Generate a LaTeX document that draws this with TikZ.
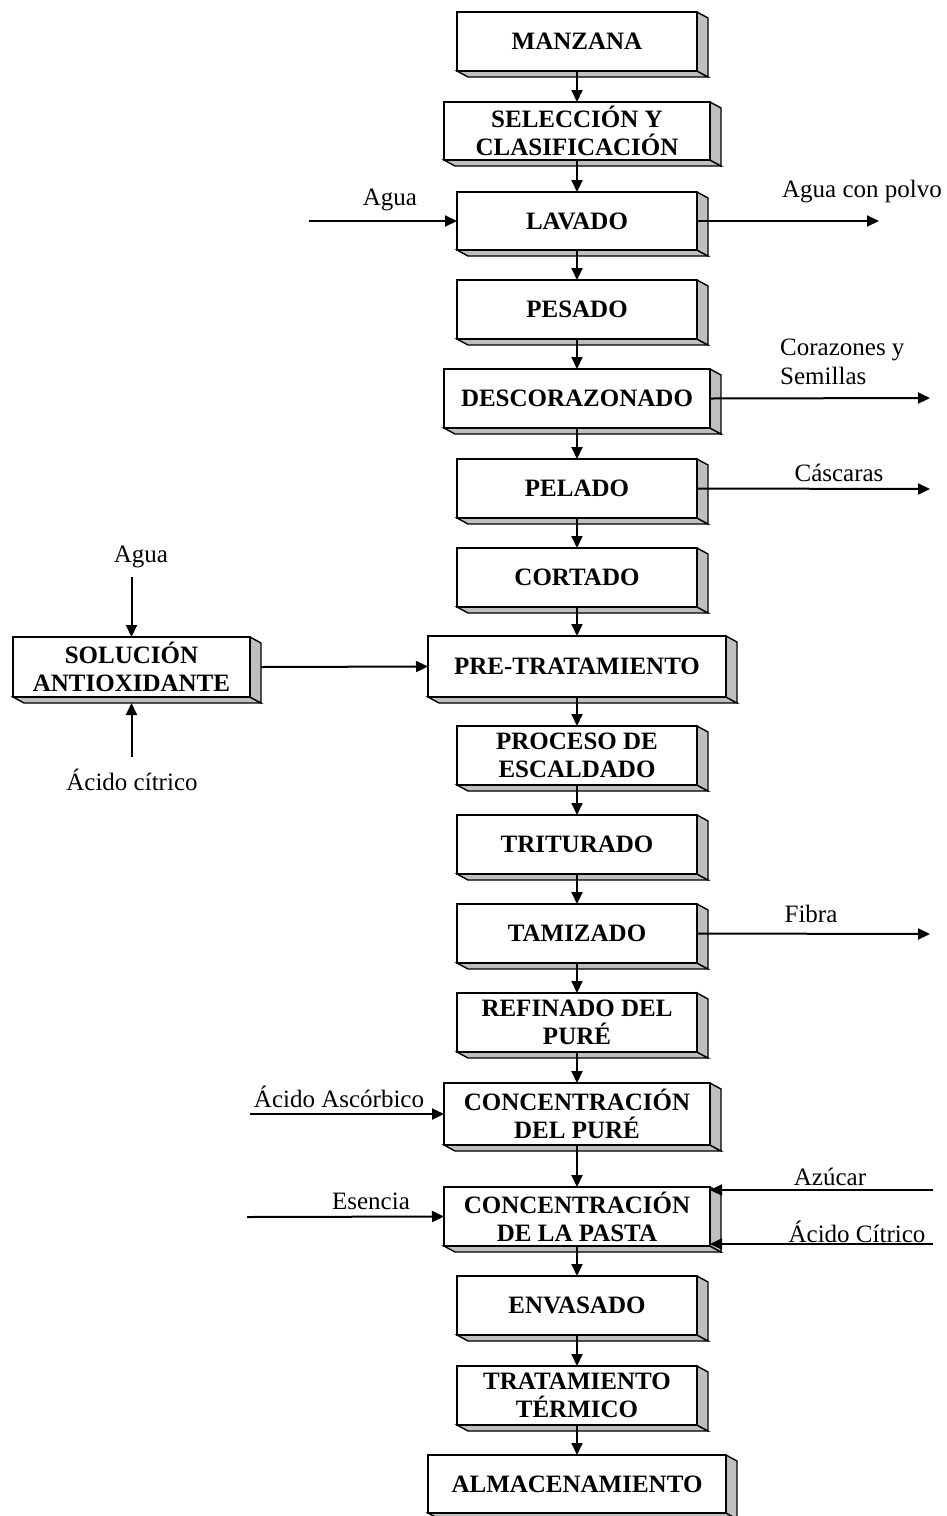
\documentclass[tikz,border=0pt]{standalone}
\usepackage{fontspec}
\setmainfont{Liberation Serif}
\usetikzlibrary{arrows.meta}

\tikzset{
  stage/.style={draw, line width=1.4pt, fill=white, inner sep=0pt, outer sep=0pt,
    align=center, font=\fontsize{25}{28}\selectfont\bfseries},
  depthface/.style={draw, line width=1.4pt, fill=black!25, line join=miter},
  flow/.style={line width=2pt, -{Triangle[length=12pt,width=11pt]}},
  tag/.style={font=\fontsize{25}{29}\selectfont, inner sep=0pt}
}

% #1 name, #2 centre x, #3 top y, #4 width, #5 height, #6 text
\newcommand\procbox[6]{%
  \pgfmathsetmacro\bxl{#2-#4/2}%
  \pgfmathsetmacro\bxr{#2+#4/2}%
  \pgfmathsetmacro\byb{#3+#5}%
  \filldraw[depthface] (\bxl,\byb) -- ++(11,6) -- (\bxr+11,\byb+6) -- (\bxr,\byb) -- cycle;
  \filldraw[depthface] (\bxr,#3) -- ++(11,6) -- (\bxr+11,\byb+6) -- (\bxr,\byb) -- cycle;
  \node[stage, minimum width=#4, minimum height=#5] (#1) at (#2,{#3+#5/2}) {#6};
}

\begin{document}
\begin{tikzpicture}[x=1pt,y=-1pt]
\useasboundingbox (0,0) rectangle (946,1516);

% main process line
\procbox{man}{577}{12}{240}{59}{MANZANA}
\procbox{sel}{577}{102}{266}{58}{SELECCIÓN Y\\CLASIFICACIÓN}
\procbox{lav}{577}{192}{240}{58}{LAVADO}
\procbox{pes}{577}{280}{240}{59}{PESADO}
\procbox{des}{577}{369}{266}{59}{DESCORAZONADO}
\procbox{pel}{577}{459}{240}{59}{PELADO}
\procbox{cor}{577}{548}{240}{59}{CORTADO}
\procbox{pre}{577}{636}{298}{61}{PRE-TRATAMIENTO}
\procbox{esc}{577}{726}{240}{59}{PROCESO DE\\ESCALDADO}
\procbox{tri}{577}{815}{240}{59}{TRITURADO}
\procbox{tam}{577}{904}{240}{59}{TAMIZADO}
\procbox{ref}{577}{993}{240}{59}{REFINADO DEL\\PURÉ}
\procbox{cpu}{577}{1083}{266}{62}{CONCENTRACIÓN\\DEL PURÉ}
\procbox{cpa}{577}{1187}{266}{59}{CONCENTRACIÓN\\DE LA PASTA}
\procbox{env}{577}{1276}{240}{59}{ENVASADO}
\procbox{ter}{577}{1366}{240}{59}{TRATAMIENTO\\TÉRMICO}
\procbox{alm}{577}{1455}{298}{58}{ALMACENAMIENTO}

% antioxidant solution
\procbox{sol}{131.5}{637}{237}{60}{SOLUCIÓN\\ANTIOXIDANTE}

% vertical flow
\foreach \a/\b in {man/sel, sel/lav, lav/pes, pes/des, des/pel, pel/cor, cor/pre,
                   pre/esc, esc/tri, tri/tam, tam/ref, ref/cpu, cpu/cpa, cpa/env,
                   env/ter, ter/alm}
  \draw[flow] (\a.south) -- (\b.north);

% free ends of side streams
\coordinate (aguaIn) at (309,221);
\coordinate (polvoOut) at (879,221);
\coordinate (corOut) at (930,398);
\coordinate (cascOut) at (930,489);
\coordinate (aguaSol) at (131.5,577);
\coordinate (citSol) at (131.5,757);
\coordinate (fibOut) at (930,934);
\coordinate (ascIn) at (250,1114);
\coordinate (escIn) at (247,1217);
\coordinate (azuIn) at (933,1190);
\coordinate (citIn) at (933,1244);

% side streams
\draw[flow] (aguaIn) -- (lav.west);
\draw[flow] (lav.east) -- (polvoOut);
\draw[flow] (des.east) -- (corOut);
\draw[flow] (pel.east) -- (cascOut);
\draw[flow] (aguaSol) -- (sol.north);
\draw[flow] (citSol) -- ([yshift=-6pt]sol.south);
\draw[flow] ([xshift=11pt]sol.east) -- (pre.west);
\draw[flow] (tam.east) -- (fibOut);
\draw[flow] (ascIn) -- (cpu.west);
\draw[flow] (escIn) -- (cpa.west);
\draw[flow] (azuIn) -- (azuIn -| cpa.east);
\draw[flow] (citIn) -- (citIn -| cpa.east);

% stream labels
\node[tag] (tAgua) at (390,200) {Agua};
\node[tag] (tPolvo) at (862,192) {Agua con polvo};
\node[tag, align=left, anchor=west] (tCor) at (780,362) {Corazones y\\Semillas};
\node[tag] (tCasc) at (839,473) {Cáscaras};
\node[tag] (tAgua2) at (141,557) {Agua};
\node[tag] (tCit) at (132,780) {Ácido cítrico};
\node[tag] (tFib) at (811,914) {Fibra};
\node[tag] (tAsc) at (339,1097) {Ácido Ascórbico};
\node[tag] (tEsc) at (371,1201) {Esencia};
\node[tag] (tAzu) at (830,1177) {Azúcar};
\node[tag] (tCit2) at (857,1232) {Ácido Cítrico};
\end{tikzpicture}
\end{document}
